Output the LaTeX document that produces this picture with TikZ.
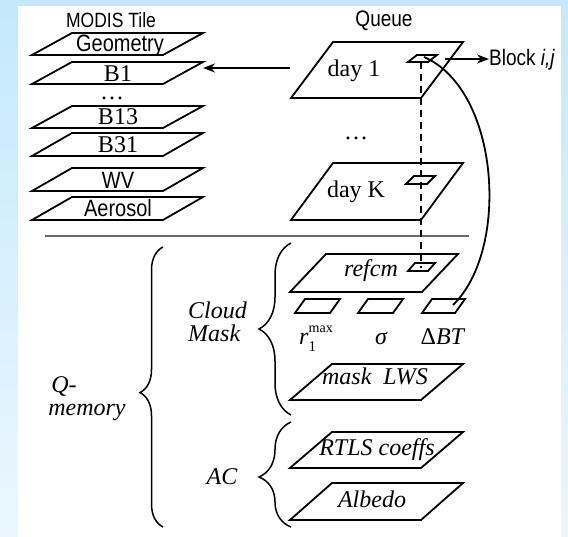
\documentclass[tikz,border=0pt]{standalone}
\usepackage{fontspec}
\setmainfont{Liberation Serif}
\newfontfamily\sansf{Liberation Sans}
\usetikzlibrary{arrows.meta,decorations.pathreplacing}
\definecolor{bgtop}{RGB}{196,233,251}
\definecolor{bgbot}{RGB}{234,247,255}
\definecolor{sepgray}{RGB}{105,105,105}
% name, bottom-left x, bottom y, width, slant, height
\newcommand\pgram[6]{%
  \draw[pg] (#2,#3) coordinate (#1-bl) -- ++(#4,0) coordinate (#1-br)
    -- ++(#5,-#6) coordinate (#1-tr) -- ++(-#4,0) coordinate (#1-tl) -- cycle;}
\newcommand\stxt[2]{{\sansf\fontsize{#1}{#1}\selectfont\scalebox{1}[1.18]{#2}}}
\newcommand\rtxt[1]{{\fontsize{24}{24}\selectfont #1}}
\newcommand\itxt[1]{{\fontsize{24}{24}\selectfont\itshape #1}}
\begin{document}
\begin{tikzpicture}[x=1pt,y=-1pt,
  pg/.style={draw=black,line width=1.8pt,line join=miter},
  lbl/.style={inner sep=0pt,anchor=base},
  dotlbl/.style={lbl,text height=3pt,text depth=0pt},
  conn/.style={draw=black,line width=1.8pt},
  arr/.style={conn,-{Stealth[length=12pt,width=9pt]}},
  brc/.style={draw=black,line width=1.5pt,decorate}]
\useasboundingbox (0,0) rectangle (568,537);
\shade[top color=bgtop,bottom color=bgbot] (0,0) rectangle (568,537);
\fill[white] (18,6) rectangle (561,537);

% ---------- MODIS Tile stack ----------
\node[lbl] (modis) at (111,28) {\stxt{17.5}{MODIS Tile}};
\pgram{pgeo}{32}{55}{131}{40}{22}
\pgram{pb1}{32}{84}{131}{40}{22}
\pgram{pb13}{32}{128}{131}{40}{22}
\pgram{pb31}{32}{156}{131}{40}{23}
\pgram{pwv}{32}{191}{131}{40}{23}
\pgram{paer}{32}{220}{131}{40}{23}
\node[lbl] (geo) at (120,52) {\stxt{20}{Geometry}};
\node[lbl] (b1) at (118,82) {\rtxt{B1}};
\node[dotlbl] (ldots) at (112,100) {\rtxt{\dots}};
\node[lbl] (b13) at (118,125) {\rtxt{B13}};
\node[lbl] (b31) at (118,153) {\rtxt{B31}};
\node[lbl] (wv) at (118,189) {\stxt{20}{WV}};
\node[lbl] (aer) at (118,217) {\stxt{20}{Aerosol}};

% ---------- Queue ----------
\node[lbl] (queue) at (384,27) {\stxt{19}{Queue}};
\pgram{pday1}{291}{98}{130}{42}{56}
\pgram{pdayk}{291}{220}{130}{42}{57}
\node[lbl] (day1) at (354,77) {\rtxt{day 1}};
\node[lbl] (dayk) at (356,198) {\rtxt{day K}};
\node[dotlbl] (qdots) at (356,140) {\rtxt{\dots}};
\pgram{blk1}{408}{62}{20}{9}{7}
\pgram{blkk}{406}{184}{21}{8}{8}
\node[lbl,anchor=base west] (block) at (489,66) {\stxt{19}{Block \textit{i,j}}};

% separator
\draw[sepgray,line width=2pt] (45,236) coordinate (sepL) -- (469,236) coordinate (sepR);

% ---------- Q-memory ----------
\pgram{prefcm}{290}{292}{132}{36}{38}
\node[lbl] (refcm) at (371,277) {\itxt{refcm}};
\pgram{blkr}{408}{271}{20}{7}{8}
\pgram{sb1}{295}{313}{35}{10}{14}
\pgram{sb2}{358}{313}{35}{10}{14}
\pgram{sb3}{422}{313}{33}{10}{14}
\node[lbl] (rmax) at (316,345) {\rtxt{\textit{r}\makebox[0pt][l]{\raisebox{-7pt}{\fontsize{15}{15}\selectfont 1}}\raisebox{12pt}{\fontsize{14}{14}\selectfont max}}};
\node[lbl] (sigma) at (381,345) {\itxt{σ}};
\node[lbl] (dbt) at (443,345) {\rtxt{Δ\textit{BT}}};
\pgram{pmask}{290}{400}{131}{42}{36}
\node[lbl] (mask) at (375,385) {\itxt{mask\ \ LWS}};
\pgram{prtls}{290}{468}{131}{42}{36}
\node[lbl] (rtls) at (377,455) {\itxt{RTLS coeffs}};
\pgram{palb}{290}{520}{131}{42}{37}
\node[lbl] (alb) at (372,507) {\itxt{Albedo}};

\node[lbl,anchor=base west] (cloud) at (188,319) {\itxt{Cloud}};
\node[lbl,anchor=base west] (cmask) at (188,342) {\itxt{Mask}};
\node[lbl] (ac) at (222,484) {\itxt{AC}};
\node[lbl] (q) at (64,393) {\itxt{Q-}};
\node[lbl] (mem) at (87,416) {\itxt{memory}};

\draw[brc,decoration={brace,amplitude=23pt,aspect=0.48}] (163,527) -- (163,247);
\draw[brc,decoration={brace,amplitude=32pt,aspect=0.5}] (291,415) -- (291,243);
\draw[brc,decoration={brace,amplitude=32pt,aspect=0.476}] (291,527) -- (291,422);

% ---------- connectors ----------
\coordinate (aStart) at (290,68);
\coordinate (aEnd) at (203,68);
\draw[arr] (aStart) -- (aEnd);
\coordinate (bStart) at (445,59);
\draw[arr] (bStart) -- (block.west |- bStart);
\coordinate (dTop) at (421,62);
\coordinate (dBot) at (421,268);
\draw[line width=1.8pt,dash pattern=on 7pt off 5pt] (dTop) -- (dBot);
\coordinate (cStart) at (424,57);
\coordinate (cEnd) at (453,305);
\draw[conn] (cStart) .. controls (500,90) and (510,250) .. (cEnd);
\end{tikzpicture}
\end{document}
